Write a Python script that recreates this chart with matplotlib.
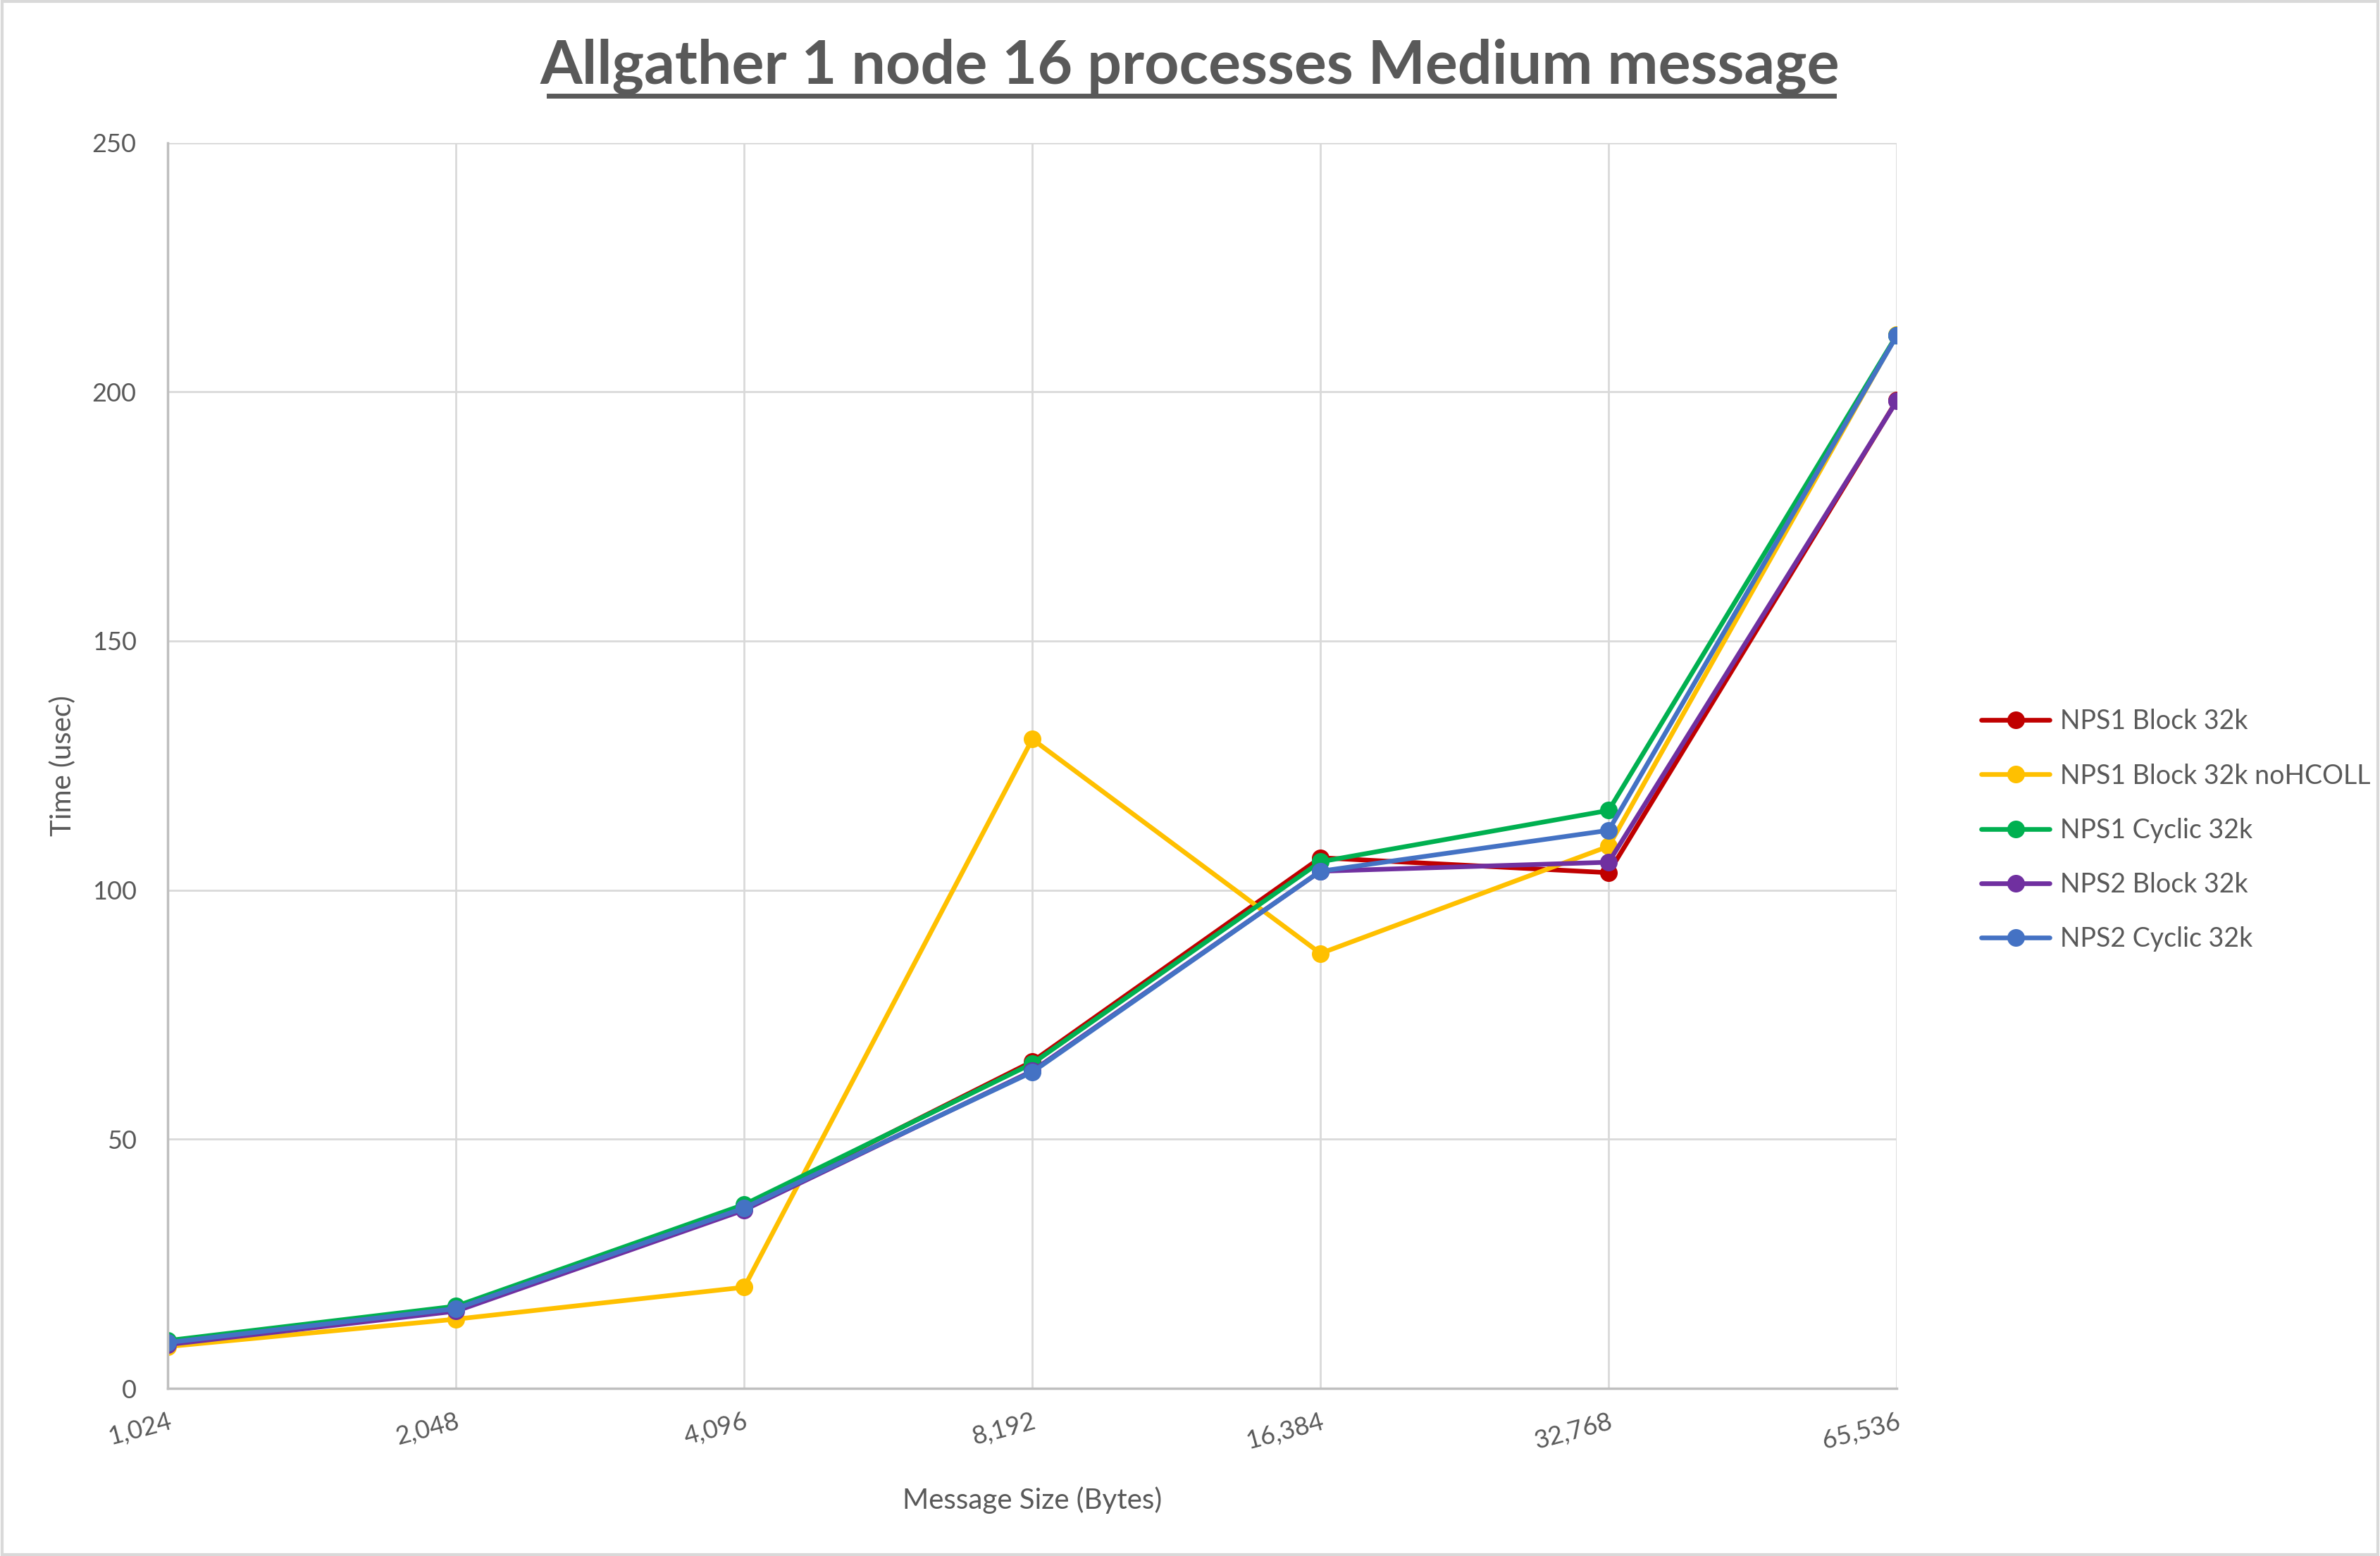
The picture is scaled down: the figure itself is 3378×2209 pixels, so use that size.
import matplotlib
matplotlib.use("Agg")
import matplotlib.pyplot as plt
from matplotlib.patches import Rectangle

# values
sizes = ["1,024", "2,048", "4,096", "8,192", "16,384", "32,768", "65,536"]
nps1_block = [9.0, 16.2, 36.5, 65.6, 106.5, 103.5, 198.3]
nps1_block_nohcoll = [8.4, 13.9, 20.3, 130.3, 87.3, 108.8, 211.5]
nps1_cyclic = [9.6, 16.5, 36.9, 65.2, 105.7, 116.0, 211.4]
nps2_block = [8.8, 15.5, 35.8, 63.7, 103.8, 105.6, 198.2]
nps2_cyclic = [9.2, 16.0, 36.2, 63.5, 103.8, 112.0, 211.3]

series = [
    ("NPS1 Block 32k", nps1_block, "#C00000"),
    ("NPS1 Block 32k noHCOLL", nps1_block_nohcoll, "#FFC000"),
    ("NPS1 Cyclic 32k", nps1_cyclic, "#00B050"),
    ("NPS2 Block 32k", nps2_block, "#7030A0"),
    ("NPS2 Cyclic 32k", nps2_cyclic, "#4472C4"),
]

txt = "#595959"
plt.rcParams['font.family'] = ['Lato', 'DejaVu Sans']

fig = plt.figure(figsize=(33.78, 22.09), dpi=100)
ax = fig.add_axes([0.0705, 0.1077, 0.7265, 0.8006])

x = list(range(len(sizes)))
for name, vals, col in series:
    ax.plot(x, vals, color=col, lw=4.8, marker="o", ms=17, label=name,
            solid_capstyle="round", solid_joinstyle="round")

ax.set_xlim(0, len(sizes) - 1)
ax.set_ylim(0, 250)
ax.set_yticks(range(0, 251, 50))
ax.set_xticks(x)
ax.set_xticklabels(sizes, rotation=15, ha="right", rotation_mode="anchor")
ax.tick_params(axis="both", length=0, labelsize=26, labelcolor=txt)
ax.tick_params(axis="y", pad=32)
ax.tick_params(axis="x", pad=22)
ax.grid(True, color="#d9d9d9", lw=2)
ax.set_axisbelow(True)
for s in ["top", "right"]:
    ax.spines[s].set_visible(False)
for s in ["left", "bottom"]:
    ax.spines[s].set_color("#bfbfbf")
    ax.spines[s].set_linewidth(2.5)

ax.set_xlabel("Message Size (Bytes)", fontsize=29, color=txt, labelpad=34)
ax.set_ylabel("Time (usec)", fontsize=29, color=txt, labelpad=16)

fig.suptitle("Allgather 1 node 16 processes Medium message", x=0.5, y=0.975,
             fontsize=62, fontweight="bold", color=txt)
# underline under the title
fig.add_artist(plt.Line2D([0.2305, 0.7705], [0.9385, 0.9385], color=txt, lw=5))

leg = ax.legend(loc="center left", bbox_to_anchor=(1.035, 0.448), frameon=False,
                fontsize=27, labelcolor=txt, handlelength=2.6, handletextpad=0.4,
                labelspacing=1.1)

fig.add_artist(Rectangle((0.001, 0.001), 0.998, 0.998, transform=fig.transFigure,
                         fill=False, edgecolor="#d9d9d9", lw=3))

fig.savefig("out.png", dpi=100)
